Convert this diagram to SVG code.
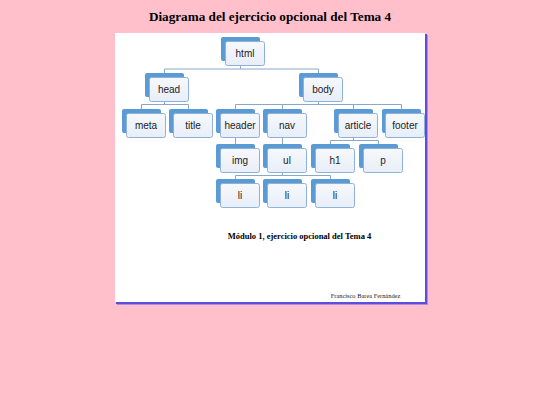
<svg xmlns="http://www.w3.org/2000/svg" width="540" height="405" viewBox="0 0 540 405">
<defs>
<linearGradient id="fg" x1="0" y1="0" x2="0" y2="1">
<stop offset="0" stop-color="#f6f8fc"/>
<stop offset="1" stop-color="#e8eef8"/>
</linearGradient>
</defs>
<style>
.back{fill:#5b9bd5;}
.front{fill:url(#fg);stroke:#8fb0d8;stroke-width:1;}
.lbl{font-family:"Liberation Sans",Arial,sans-serif;font-size:10px;fill:#222;text-anchor:middle;}
.con{fill:none;stroke:#8aa8c8;stroke-width:1;}
</style>
<rect width="540" height="405" fill="#ffc0cb"/>
<text x="270" y="21" font-family="Liberation Serif,serif" font-weight="bold" font-size="13.2" text-anchor="middle" fill="#000">Diagrama del ejercicio opcional del Tema 4</text>
<rect x="117" y="35" width="311" height="270" fill="#b28be0"/>
<rect x="116" y="34" width="311" height="270" fill="#5a4de0"/>
<rect x="115" y="33" width="310" height="269" fill="#ffffff"/>
<g id="connectors">
<path class="con" d="M240.5,65V69M164.5,73V69H318.5V73"/>
<path class="con" d="M164.5,101V104.5M141.5,109V104.5H188.5V109"/>
<path class="con" d="M318.5,101V104.5M235.5,109V104.5H401.5V109M282.5,104.5V109M353.5,104.5V109"/>
<path class="con" d="M235.5,137V144M282.5,137V144"/>
<path class="con" d="M353.5,137V140.5M330.5,144V140.5H378.5V144"/>
<path class="con" d="M282.5,172V175.5M235.5,179V175.5H330.5V179"/>
</g>
<g id="html"><rect class="back" x="221" y="37" width="39" height="24" rx="2"/><rect class="front" x="225.5" y="41.5" width="39" height="24" rx="2"/><text class="lbl" x="245" y="57">html</text></g>
<g id="head"><rect class="back" x="145" y="73" width="39" height="24" rx="2"/><rect class="front" x="149.5" y="77.5" width="39" height="24" rx="2"/><text class="lbl" x="169" y="93">head</text></g>
<g id="body"><rect class="back" x="299" y="73" width="39" height="24" rx="2"/><rect class="front" x="303.5" y="77.5" width="39" height="24" rx="2"/><text class="lbl" x="323" y="93">body</text></g>
<g id="meta"><rect class="back" x="122" y="109" width="39" height="24" rx="2"/><rect class="front" x="126.5" y="113.5" width="39" height="24" rx="2"/><text class="lbl" x="146" y="129">meta</text></g>
<g id="title"><rect class="back" x="169" y="109" width="39" height="24" rx="2"/><rect class="front" x="173.5" y="113.5" width="39" height="24" rx="2"/><text class="lbl" x="193" y="129">title</text></g>
<g id="header"><rect class="back" x="216" y="109" width="39" height="24" rx="2"/><rect class="front" x="220.5" y="113.5" width="39" height="24" rx="2"/><text class="lbl" x="240" y="129">header</text></g>
<g id="nav"><rect class="back" x="263" y="109" width="39" height="24" rx="2"/><rect class="front" x="267.5" y="113.5" width="39" height="24" rx="2"/><text class="lbl" x="287" y="129">nav</text></g>
<g id="article"><rect class="back" x="334" y="109" width="39" height="24" rx="2"/><rect class="front" x="338.5" y="113.5" width="39" height="24" rx="2"/><text class="lbl" x="358" y="129">article</text></g>
<g id="footer"><rect class="back" x="382" y="109" width="39" height="24" rx="2"/><rect class="front" x="385.5" y="113.5" width="39" height="24" rx="2"/><text class="lbl" x="405" y="129">footer</text></g>
<g id="img"><rect class="back" x="216" y="144" width="39" height="24" rx="2"/><rect class="front" x="220.5" y="148.5" width="39" height="24" rx="2"/><text class="lbl" x="240" y="164">img</text></g>
<g id="ul"><rect class="back" x="263" y="144" width="39" height="24" rx="2"/><rect class="front" x="267.5" y="148.5" width="39" height="24" rx="2"/><text class="lbl" x="287" y="164">ul</text></g>
<g id="h1"><rect class="back" x="311" y="144" width="39" height="24" rx="2"/><rect class="front" x="315.5" y="148.5" width="39" height="24" rx="2"/><text class="lbl" x="335" y="164">h1</text></g>
<g id="p"><rect class="back" x="359" y="144" width="39" height="24" rx="2"/><rect class="front" x="363.5" y="148.5" width="39" height="24" rx="2"/><text class="lbl" x="383" y="164">p</text></g>
<g id="li1"><rect class="back" x="216" y="179" width="39" height="24" rx="2"/><rect class="front" x="220.5" y="183.5" width="39" height="24" rx="2"/><text class="lbl" x="240" y="199">li</text></g>
<g id="li2"><rect class="back" x="263" y="179" width="39" height="24" rx="2"/><rect class="front" x="267.5" y="183.5" width="39" height="24" rx="2"/><text class="lbl" x="287" y="199">li</text></g>
<g id="li3"><rect class="back" x="311" y="179" width="39" height="24" rx="2"/><rect class="front" x="315.5" y="183.5" width="39" height="24" rx="2"/><text class="lbl" x="335" y="199">li</text></g>
<text x="299.5" y="239" font-family="Liberation Serif,serif" font-weight="bold" font-size="8.5" text-anchor="middle" fill="#000">Módulo 1, ejercicio opcional del Tema 4</text>
<text x="365.5" y="298" font-family="Liberation Serif,serif" font-size="6.4" text-anchor="middle" fill="#222">Francisco Barea Fernández</text>
</svg>
